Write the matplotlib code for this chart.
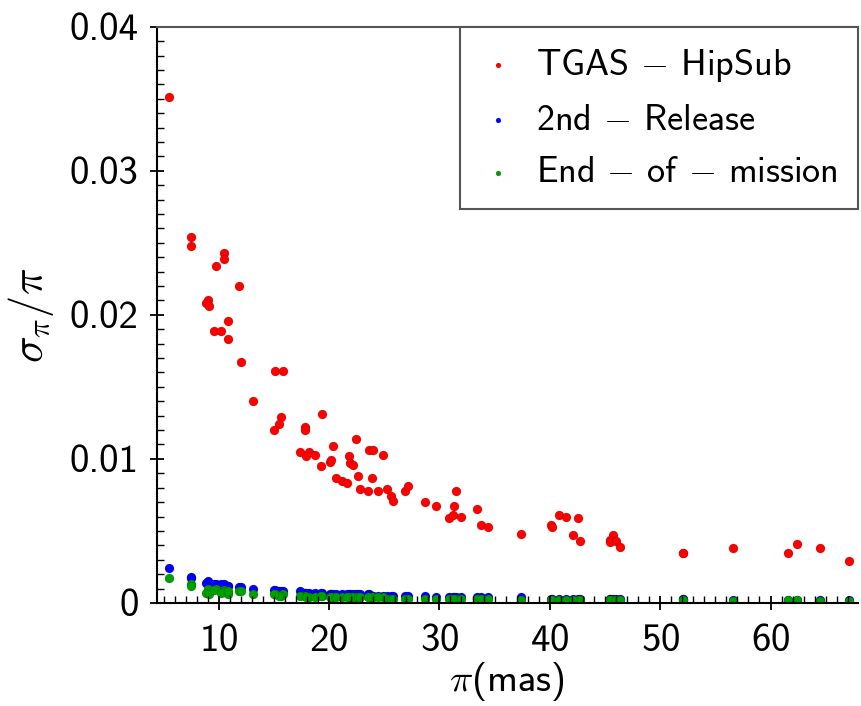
import matplotlib
matplotlib.use('Agg')
import matplotlib.pyplot as plt
from matplotlib.ticker import MultipleLocator, FuncFormatter
import numpy as np

plt.rcParams['font.family'] = ['cmss10', 'DejaVu Sans']
plt.rcParams['mathtext.fontset'] = 'cm'
plt.rcParams['axes.unicode_minus'] = False
plt.rcParams['axes.formatter.use_mathtext'] = True

# parallax (mas), shared by the three samples
parallax = [5.47, 7.46, 7.52, 10.45, 10.45, 9.79, 11.81, 9.03, 8.88, 9.12,
            10.86, 9.57, 10.24, 10.86, 11.99, 15.14, 15.82, 13.08, 15.62, 15.47,
            15.00, 17.86, 17.86, 19.38, 17.41, 18.16, 17.95, 18.70, 20.34, 20.06,
            20.22, 19.25, 22.48, 21.81, 21.88, 22.15, 21.21, 20.67, 21.60, 22.63,
            23.60, 23.99, 24.90, 23.93, 22.78, 23.54, 24.48, 25.29, 25.57, 25.80,
            26.89, 27.11, 28.65, 29.67, 31.49, 31.31, 30.88, 31.24, 32.00, 33.45,
            33.73, 34.36, 37.35, 40.10, 40.22, 40.83, 41.49, 42.55, 42.12, 42.70,
            45.72, 45.48, 45.45, 45.96, 46.38, 52.09, 52.09, 56.57, 61.56, 62.37,
            64.49, 67.12]

tgas = [0.0351, 0.0254, 0.0248, 0.0243, 0.0239, 0.0234, 0.0220, 0.0210, 0.0208, 0.0206,
        0.0196, 0.0189, 0.0189, 0.0183, 0.0167, 0.0161, 0.0161, 0.0140, 0.0129, 0.0124,
        0.0120, 0.0122, 0.0120, 0.0131, 0.0105, 0.0105, 0.0102, 0.0103, 0.0109, 0.0098,
        0.0099, 0.0095, 0.0114, 0.0102, 0.0097, 0.0096, 0.0085, 0.0087, 0.0083, 0.0088,
        0.0106, 0.0106, 0.0103, 0.0087, 0.0079, 0.0078, 0.0078, 0.0079, 0.0074, 0.0071,
        0.0078, 0.0081, 0.0070, 0.0067, 0.0078, 0.0067, 0.0059, 0.0061, 0.0060, 0.0065,
        0.0054, 0.0053, 0.0048, 0.0054, 0.0053, 0.0061, 0.0060, 0.0059, 0.0047, 0.0043,
        0.0047, 0.0044, 0.0042, 0.0043, 0.0039, 0.0035, 0.0035, 0.0038, 0.0035, 0.0041,
        0.0038, 0.0029]

dr2 = [0.0024, 0.0018, 0.0017, 0.0013, 0.0012, 0.0013, 0.0011, 0.0015, 0.0014, 0.0014,
       0.0012, 0.0013, 0.0013, 0.0012, 0.0011, 0.0009, 0.0008, 0.0010, 0.0008, 0.0008,
       0.0009, 0.0007, 0.0007, 0.0007, 0.0008, 0.0007, 0.0007, 0.0007, 0.0006, 0.0006,
       0.0006, 0.0007, 0.0006, 0.0006, 0.0006, 0.0006, 0.0006, 0.0006, 0.0006, 0.0006,
       0.0006, 0.0005, 0.0005, 0.0005, 0.0006, 0.0006, 0.0005, 0.0005, 0.0005, 0.0005,
       0.0005, 0.0005, 0.0005, 0.0004, 0.0004, 0.0004, 0.0004, 0.0004, 0.0004, 0.0004,
       0.0004, 0.0004, 0.0004, 0.0003, 0.0003, 0.0003, 0.0003, 0.0003, 0.0003, 0.0003,
       0.0003, 0.0003, 0.0003, 0.0003, 0.0003, 0.0003, 0.0003, 0.0002, 0.0002, 0.0002,
       0.0002, 0.0002]

eom = [0.0017, 0.0013, 0.0012, 0.0009, 0.0008, 0.0010, 0.0008, 0.0010, 0.0007, 0.0006,
       0.0006, 0.0009, 0.0007, 0.0008, 0.0008, 0.0006, 0.0006, 0.0006, 0.0005, 0.0005,
       0.0006, 0.0005, 0.0005, 0.0005, 0.0005, 0.0004, 0.0004, 0.0004, 0.0004, 0.0004,
       0.0004, 0.0005, 0.0004, 0.0004, 0.0004, 0.0004, 0.0004, 0.0004, 0.0004, 0.0004,
       0.0004, 0.0004, 0.0004, 0.0004, 0.0004, 0.0004, 0.0004, 0.0003, 0.0003, 0.0003,
       0.0003, 0.0003, 0.0003, 0.0003, 0.0003, 0.0003, 0.0003, 0.0003, 0.0003, 0.0003,
       0.0003, 0.0003, 0.0002, 0.0002, 0.0002, 0.0002, 0.0002, 0.0002, 0.0002, 0.0002,
       0.0002, 0.0002, 0.0002, 0.0002, 0.0002, 0.0002, 0.0002, 0.0001, 0.0002, 0.0002,
       0.0001, 0.0001]

labels = [r'TGAS $-$ HipSub', r'2nd $-$ Release', r'End $-$ of $-$ mission']
colours = ['#ff0000', '#0000ff', '#00a000']


def tick_fmt(v, pos):
    if abs(v) < 1e-12:
        return '0'
    return '%.2f' % v


fig = plt.figure(figsize=(8.62, 7.06), dpi=100)
ax = fig.add_axes([0.182, 0.146, 0.813, 0.816])

for ys, c, lab in zip([tgas, dr2, eom], colours, labels):
    ax.scatter(parallax, ys, s=42, color=c, edgecolors=(0, 0, 0, 0.35),
               linewidths=0.3, label=lab)

ax.set_xlim(4.4, 67.9)
ax.set_ylim(0, 0.04)
ax.xaxis.set_major_locator(MultipleLocator(10))
ax.xaxis.set_minor_locator(MultipleLocator(1))
ax.yaxis.set_major_locator(MultipleLocator(0.01))
ax.yaxis.set_minor_locator(MultipleLocator(0.001))
ax.yaxis.set_major_formatter(FuncFormatter(tick_fmt))

ax.tick_params(which='major', direction='inout', length=10, width=1.3, labelsize=28,
               top=False, right=False)
ax.tick_params(axis='x', which='major', pad=10)
ax.tick_params(axis='y', which='major', pad=8)
ax.tick_params(which='minor', direction='in', length=5, width=1.0, top=False, right=False)

for side in ['left', 'bottom']:
    ax.spines[side].set_linewidth(1.5)
    ax.spines[side].set_color('black')
ax.spines['top'].set_color('#555555')
ax.spines['top'].set_linewidth(1.5)
ax.spines['right'].set_visible(False)

ax.set_xlabel(r'$\pi$(mas)', fontsize=28, labelpad=1)
ax.set_ylabel(r'$\sigma_{\pi}/\pi$', fontsize=32, labelpad=10)

leg = ax.legend(loc='upper right', fontsize=26, fancybox=False, framealpha=1,
                edgecolor='#555555', borderaxespad=0, markerscale=0.55,
                handlelength=1.0, handletextpad=0.55, labelspacing=0.55,
                borderpad=0.55)
leg.get_frame().set_linewidth(1.5)

plt.savefig('out.png', dpi=100)
